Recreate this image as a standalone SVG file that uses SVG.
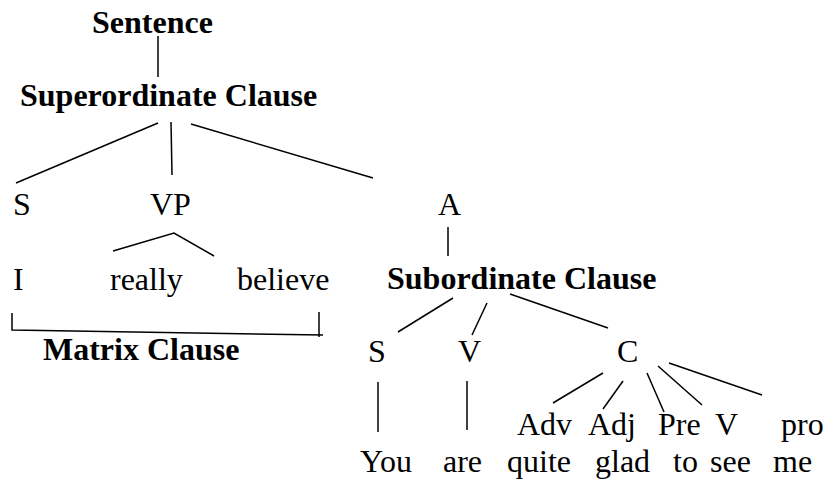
<svg xmlns="http://www.w3.org/2000/svg" width="823" height="479" viewBox="0 0 823 479">
<style>
text{font-family:"Liberation Serif","Times New Roman",serif;font-size:32px;fill:#000}
.b{font-weight:bold}
#connectors line,#connectors polyline{stroke:#000;stroke-width:1.5;fill:none}
</style>
<rect width="823" height="479" fill="#fff"/>
<g id="connectors">
<line x1="158" y1="36" x2="158" y2="77"/>
<line x1="158" y1="123" x2="16" y2="183"/>
<line x1="171" y1="122" x2="172" y2="175"/>
<line x1="191" y1="124" x2="373" y2="178"/>
<polyline points="113,251 174,233 214,256"/>
<polyline points="12,313 12,330 323,335"/>
<line x1="319" y1="312" x2="319" y2="337"/>
<line x1="448" y1="227" x2="448" y2="256"/>
<line x1="453" y1="298" x2="398" y2="332"/>
<line x1="487" y1="303" x2="472" y2="335"/>
<line x1="510" y1="294" x2="608" y2="328"/>
<line x1="378" y1="382" x2="378" y2="432"/>
<line x1="467" y1="381" x2="467" y2="430"/>
<line x1="603" y1="373" x2="553" y2="403"/>
<line x1="623" y1="381" x2="603" y2="409"/>
<line x1="647" y1="373" x2="664" y2="412"/>
<line x1="658" y1="366" x2="702" y2="405"/>
<line x1="669" y1="363" x2="762" y2="395"/>
</g>
<g id="sentence"><text class="b" x="92" y="33">Sentence</text></g>
<g id="superordinate"><text class="b" x="20" y="106">Superordinate Clause</text></g>
<g id="s1"><text x="13" y="215">S</text></g>
<g id="vp"><text x="150" y="215">VP</text></g>
<g id="a"><text x="438" y="215">A</text></g>
<g id="i"><text x="13" y="290">I</text></g>
<g id="really"><text x="110" y="290">really</text></g>
<g id="believe"><text x="237" y="290">believe</text></g>
<g id="subordinate"><text class="b" x="387" y="289">Subordinate Clause</text></g>
<g id="matrix"><text class="b" x="43" y="360">Matrix Clause</text></g>
<g id="s2"><text x="368" y="362">S</text></g>
<g id="v1"><text x="458" y="362">V</text></g>
<g id="c"><text x="617" y="362">C</text></g>
<g id="adv"><text x="517" y="435">Adv</text></g>
<g id="adj"><text x="588" y="435">Adj</text></g>
<g id="pre"><text x="658" y="435">Pre</text></g>
<g id="v2"><text x="715" y="435">V</text></g>
<g id="pro"><text x="781" y="435">pro</text></g>
<g id="you"><text x="360" y="472">You</text></g>
<g id="are"><text x="443" y="472">are</text></g>
<g id="quite"><text x="507" y="472">quite</text></g>
<g id="glad"><text x="595" y="472">glad</text></g>
<g id="to"><text x="673" y="472">to</text></g>
<g id="see"><text x="710" y="472">see</text></g>
<g id="me"><text x="773" y="472">me</text></g>
</svg>
